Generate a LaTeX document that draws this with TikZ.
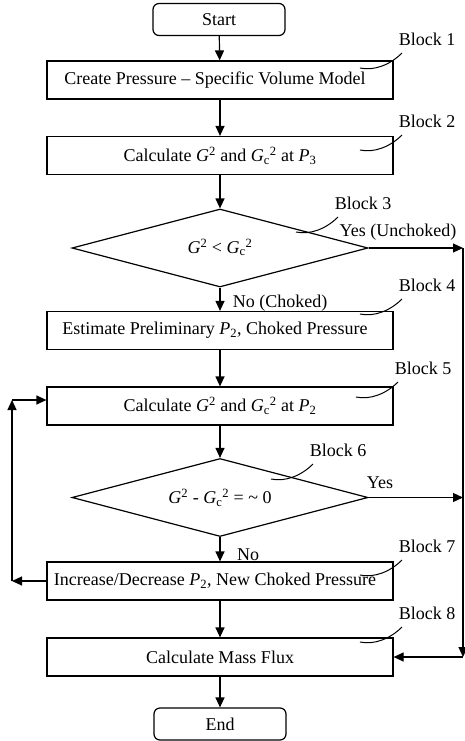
\documentclass[tikz,border=0pt]{standalone}
\usepackage{fontspec}
\setmainfont{Liberation Serif}
\usetikzlibrary{shapes.geometric,arrows.meta,calc}
\begin{document}
\begin{tikzpicture}[x=1pt,y=-1pt,
 every node/.style={font=\fontsize{18}{21}\selectfont},
 box/.style={draw, line width=1.2pt, minimum width=346pt, minimum height=38pt, inner sep=0pt},
 term/.style={draw, line width=1.2pt, rounded corners=6pt, minimum width=132pt, minimum height=32pt, inner sep=0pt},
 dec/.style={draw, diamond, aspect=3.8, line width=1.2pt, minimum width=296pt, minimum height=78pt, inner sep=0pt},
 arr/.style={line width=1.2pt, -{Triangle[length=10pt,width=9pt]}},
 lead/.style={line width=1pt},
 lbl/.style={inner sep=0pt}]
\useasboundingbox (0,0) rectangle (465,741);
% nodes
\node[term] (start) at (219,19.5) {Start};
\node[box] (b1) at (220,80) {Create Pressure -- Specific Volume Model\hspace*{10pt}};
\node[box] (b2) at (220,155.5) {Calculate \textit{G}\textsuperscript{2} and \textit{G}\textsubscript{c}\textsuperscript{2} at \textit{P}\textsubscript{3}};
\node[dec] (d3) at (220,248) {\raisebox{4pt}{\textit{G}\textsuperscript{2} {\textless} \textit{G}\textsubscript{c}\textsuperscript{2}}};
\node[box] (b4) at (220,330.5) {Estimate Preliminary \textit{P}\textsubscript{2}, Choked Pressure\hspace*{10pt}};
\node[box] (b5) at (220,406) {Calculate \textit{G}\textsuperscript{2} and \textit{G}\textsubscript{c}\textsuperscript{2} at \textit{P}\textsubscript{2}};
\node[dec] (d6) at (220,497.5) {\textit{G}\textsuperscript{2} - \textit{G}\textsubscript{c}\textsuperscript{2} = \textasciitilde{} 0};
\node[box] (b7) at (220,581) {Increase/Decrease \textit{P}\textsubscript{2}, New Choked Pressure\hspace*{10pt}};
\node[box] (b8) at (220,657) {Calculate Mass Flux};
\node[term] (end) at (220,724) {End};
% block labels
\node[lbl] (lb1) at (427,39) {Block 1};
\node[lbl] (lb2) at (427,121) {Block 2};
\node[lbl] (lb3) at (363,203) {Block 3};
\node[lbl] (lb4) at (427,285) {Block 4};
\node[lbl] (lb5) at (423,368) {Block 5};
\node[lbl] (lb6) at (338,450) {Block 6};
\node[lbl] (lb7) at (427,546) {Block 7};
\node[lbl] (lb8) at (427,613) {Block 8};
\foreach \l in {lb1,lb2,lb3,lb4,lb5,lb6,lb7,lb8}{
  \draw[lead, shift={($(\l)+(-25,14)$)}] (-42,15) .. controls (-28,18) and (-12,12) .. (0,0);
}
% branch labels
\node[lbl] (ly3) at (398,232) {Yes (Unchoked)};
\node[lbl] (ln3) at (280,303) {No (Choked)};
\node[lbl] (ly6) at (380,483) {Yes};
\node[lbl] (ln6) at (248,555) {No};
% main flow
\draw[arr] (start) -- (b1);
\draw[arr] (b1) -- (b2);
\draw[arr] (b2) -- (d3);
\draw[arr] (d3) -- (b4);
\draw[arr] (b4) -- (b5);
\draw[arr] (b5) -- (d6);
\draw[arr] (d6) -- (b7);
\draw[arr] (b7) -- (b8);
\draw[arr] (b8) -- (end);
% right bypass
\coordinate (r3) at (463,248);
\coordinate (r6) at (463,497.5);
\coordinate (r8) at (463,657);
\draw[arr] (d3.east) -- (r3);
\draw[arr] (d6.east) -- (r6);
\draw[arr] (r3) -- (r8);
\draw[arr] (r8) -- (b8.east);
% left loop
\coordinate (l7) at (12,581);
\coordinate (l5) at (12,400);
\draw[arr] (b7.west) -- (l7);
\draw[arr] (l7) -- (l5);
\draw[arr] (l5) -- (l5 -| b5.west);
\end{tikzpicture}
\end{document}
